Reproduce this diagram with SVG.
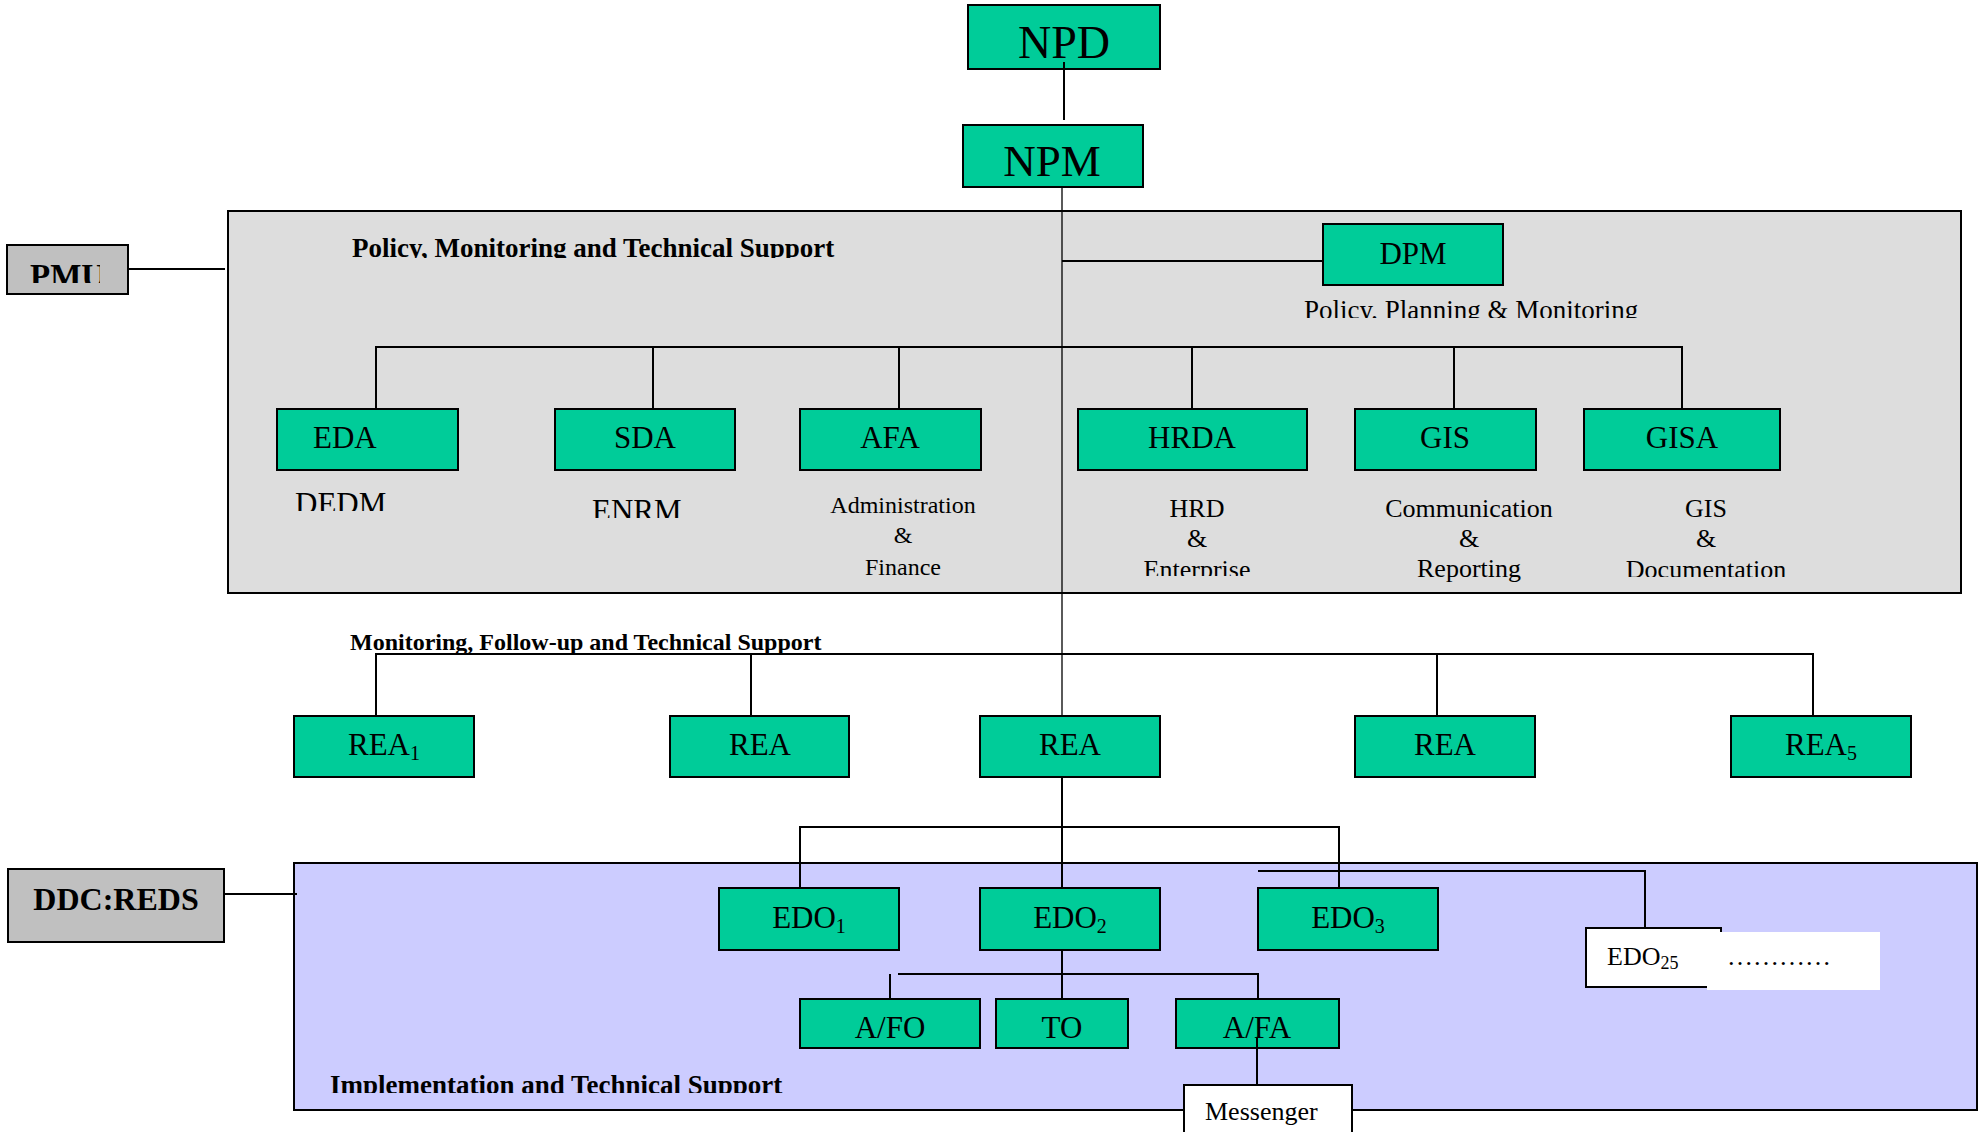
<svg xmlns="http://www.w3.org/2000/svg" width="1981" height="1132" viewBox="0 0 1981 1132">
<style>
text{font-family:"Liberation Serif","Times New Roman",serif;fill:#000}
.box{fill:#00CC99;stroke:#000;stroke-width:2}
.gbox{fill:#C0C0C0;stroke:#000;stroke-width:2}
.wbox{fill:#fff;stroke:#000;stroke-width:2}
.lbl{font-size:31px;text-anchor:middle}
.sub{font-size:26px;text-anchor:middle}
.hd{font-size:27px;font-weight:bold}
.ln{fill:none;stroke:#000;stroke-width:2}
.thin{fill:none;stroke:#000;stroke-width:1.3}
</style>
<defs>
<clipPath id="cPMU"><rect x="0" y="240" width="100" height="43"/></clipPath>
<clipPath id="cH1"><rect x="300" y="220" width="600" height="38"/></clipPath>
<clipPath id="cPPM"><rect x="1290" y="290" width="400" height="28"/></clipPath>
<clipPath id="cDEDM"><rect x="280" y="480" width="150" height="31"/></clipPath>
<clipPath id="cENRM"><rect x="580" y="480" width="150" height="38"/></clipPath>
<clipPath id="cEnt"><rect x="1100" y="550" width="200" height="26"/></clipPath>
<clipPath id="cDoc"><rect x="1600" y="550" width="220" height="27"/></clipPath>
<clipPath id="cImp"><rect x="300" y="1060" width="600" height="33"/></clipPath>
</defs>

<g id="panels">
<rect id="pmu-panel" x="228" y="211" width="1733" height="382" fill="#DDDDDD" stroke="#000" stroke-width="2"/>
<rect id="ddc-panel" x="294" y="863" width="1683" height="247" fill="#CCCCFF" stroke="#000" stroke-width="2"/>
<text class="hd" x="352" y="257" clip-path="url(#cH1)">Policy, Monitoring and Technical Support</text>
<text class="hd" x="350" y="650" style="font-size:24px">Monitoring, Follow-up and Technical Support</text>
<text class="hd" x="330" y="1094" clip-path="url(#cImp)">Implementation and Technical Support</text>
</g>

<g id="nodes">
<g id="npd"><rect class="box" x="968" y="5" width="192" height="64"/><text x="1064" y="58" style="font-size:46px;text-anchor:middle">NPD</text></g>
<g id="npm"><rect class="box" x="963" y="125" width="180" height="62"/><text x="1052" y="176" style="font-size:45px;text-anchor:middle">NPM</text></g>
<g id="pmu"><rect class="gbox" x="7" y="245" width="121" height="49"/><text x="30" y="287" clip-path="url(#cPMU)" style="font-size:33px;font-weight:bold">PMU</text></g>
<g id="dpm"><rect class="box" x="1323" y="224" width="180" height="61"/><text class="lbl" x="1413" y="264">DPM</text>
<text x="1304" y="319" clip-path="url(#cPPM)" style="font-size:27px">Policy, Planning &amp; Monitoring</text></g>

<g id="eda"><rect class="box" x="277" y="409" width="181" height="61"/><text x="313" y="448" style="font-size:31px">EDA</text>
<text x="295" y="514" clip-path="url(#cDEDM)" style="font-size:31px">DEDM</text></g>
<g id="sda"><rect class="box" x="555" y="409" width="180" height="61"/><text class="lbl" x="645" y="448">SDA</text>
<text x="592" y="521" clip-path="url(#cENRM)" style="font-size:31px">ENRM</text></g>
<g id="afa"><rect class="box" x="800" y="409" width="181" height="61"/><text class="lbl" x="890" y="448">AFA</text>
<text class="sub" x="903" y="513" style="font-size:24px">Administration</text>
<text class="sub" x="903" y="543" style="font-size:24px">&amp;</text>
<text class="sub" x="903" y="575" style="font-size:24px">Finance</text></g>
<g id="hrda"><rect class="box" x="1078" y="409" width="229" height="61"/><text class="lbl" x="1192" y="448">HRDA</text>
<text class="sub" x="1197" y="517">HRD</text>
<text class="sub" x="1197" y="547">&amp;</text>
<text class="sub" x="1197" y="578" clip-path="url(#cEnt)">Enterprise</text></g>
<g id="gis"><rect class="box" x="1355" y="409" width="181" height="61"/><text class="lbl" x="1445" y="448">GIS</text>
<text class="sub" x="1469" y="517">Communication</text>
<text class="sub" x="1469" y="547">&amp;</text>
<text class="sub" x="1469" y="577">Reporting</text></g>
<g id="gisa"><rect class="box" x="1584" y="409" width="196" height="61"/><text class="lbl" x="1682" y="448">GISA</text>
<text class="sub" x="1706" y="517">GIS</text>
<text class="sub" x="1706" y="547">&amp;</text>
<text class="sub" x="1706" y="578" clip-path="url(#cDoc)">Documentation</text></g>

<g id="rea1"><rect class="box" x="294" y="716" width="180" height="61"/><text class="lbl" x="384" y="755">REA<tspan style="font-size:20px" dy="5">1</tspan></text></g>
<g id="rea2"><rect class="box" x="670" y="716" width="179" height="61"/><text class="lbl" x="760" y="755">REA</text></g>
<g id="rea3"><rect class="box" x="980" y="716" width="180" height="61"/><text class="lbl" x="1070" y="755">REA</text></g>
<g id="rea4"><rect class="box" x="1355" y="716" width="180" height="61"/><text class="lbl" x="1445" y="755">REA</text></g>
<g id="rea5"><rect class="box" x="1731" y="716" width="180" height="61"/><text class="lbl" x="1821" y="755">REA<tspan style="font-size:20px" dy="5">5</tspan></text></g>

<g id="ddc"><rect class="gbox" x="8" y="869" width="216" height="73"/><text x="116" y="910" style="font-size:32px;font-weight:bold;text-anchor:middle">DDC:REDS</text></g>
<g id="edo1"><rect class="box" x="719" y="888" width="180" height="62"/><text class="lbl" x="809" y="928">EDO<tspan style="font-size:20px" dy="5">1</tspan></text></g>
<g id="edo2"><rect class="box" x="980" y="888" width="180" height="62"/><text class="lbl" x="1070" y="928">EDO<tspan style="font-size:20px" dy="5">2</tspan></text></g>
<g id="edo3"><rect class="box" x="1258" y="888" width="180" height="62"/><text class="lbl" x="1348" y="928">EDO<tspan style="font-size:20px" dy="5">3</tspan></text></g>
<g id="edo25"><rect class="wbox" x="1586" y="928" width="135" height="59"/>
<rect x="1707" y="932" width="173" height="58" fill="#fff"/>
<text x="1607" y="965" style="font-size:26px">EDO<tspan style="font-size:18px" dy="4">25</tspan></text>
<text x="1727" y="965" style="font-size:26px">…………</text></g>
<g id="afo"><rect class="box" x="800" y="999" width="180" height="49"/><text class="lbl" x="890" y="1038">A/FO</text></g>
<g id="to"><rect class="box" x="996" y="999" width="132" height="49"/><text class="lbl" x="1062" y="1038">TO</text></g>
<g id="afa2"><rect class="box" x="1176" y="999" width="163" height="49"/><text class="lbl" x="1257" y="1038">A/FA</text></g>
<g id="messenger"><rect class="wbox" x="1184" y="1085" width="168" height="60"/><text x="1205" y="1120" style="font-size:26px">Messenger</text></g>
</g>

<g id="connectors">
<path class="ln" d="M1064 62V120"/>
<path class="thin" d="M1062 187V716"/>
<path class="ln" d="M1062 261H1323"/>
<path class="ln" d="M128 269H225"/>
<path class="ln" d="M376 409V347H1682V409M653 347V409M899 347V409M1192 347V409M1454 347V409"/>
<path class="ln" d="M376 716V654H1813V716M751 654V716M1437 654V716"/>
<path class="ln" d="M1062 777V888M800 888V827H1339V888"/>
<path class="ln" d="M224 894H297"/>
<path class="ln" d="M1258 871H1645V928"/>
<path class="ln" d="M1062 950V999M898 974H1258V999M890 974V999"/>
<path class="ln" d="M1257 1037V1085"/>
</g>
</svg>
